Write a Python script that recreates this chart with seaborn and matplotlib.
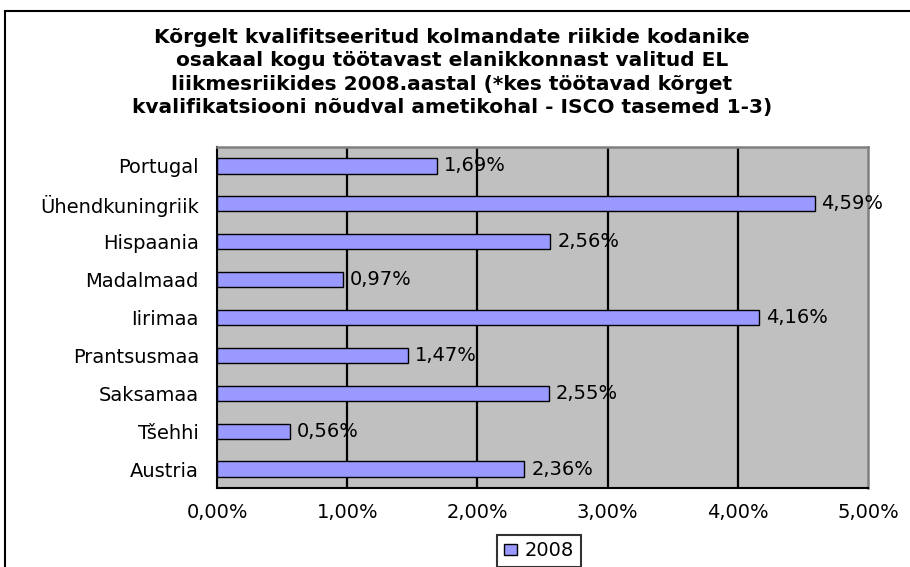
import matplotlib
matplotlib.use("Agg")
from matplotlib import pyplot as plt
import matplotlib.patches as mpatches
import pandas as pd
import seaborn as sns

countries = ["Portugal", "Ühendkuningriik", "Hispaania", "Madalmaad", "Iirimaa",
             "Prantsusmaa", "Saksamaa", "Tšehhi", "Austria"]
share_2008 = [1.69, 4.59, 2.56, 0.97, 4.16, 1.47, 2.55, 0.56, 2.36]
x_ticks = [0, 1, 2, 3, 4, 5]
series_name = "2008"
title = ("Kõrgelt kvalifitseeritud kolmandate riikide kodanike\n"
         "osakaal kogu töötavast elanikkonnast valitud EL\n"
         "liikmesriikides 2008.aastal (*kes töötavad kõrget\n"
         "kvalifikatsiooni nõudval ametikohal - ISCO tasemed 1-3)")

BAR_COLOR = "#9999FF"
PLOT_BG = "#C0C0C0"
FS = 14

sns.set_style("white")
plt.rcParams["font.family"] = ["DejaVu Sans"]
plt.rcParams["text.color"] = "black"
plt.rcParams["xtick.color"] = "black"
plt.rcParams["ytick.color"] = "black"
plt.rcParams["xtick.labelcolor"] = "black"
plt.rcParams["ytick.labelcolor"] = "black"

df = pd.DataFrame({"country": countries, "share": share_2008})

fig = plt.figure(figsize=(9.1, 5.67), dpi=100)
ax = fig.add_axes([217 / 910, 1 - 488 / 567, 651 / 910, 341 / 567])
ax.set_facecolor(PLOT_BG)

sns.barplot(data=df, x="share", y="country", order=countries, orient="h",
            color=BAR_COLOR, edgecolor="black", linewidth=1.0, width=0.4,
            saturation=1, ax=ax, zorder=3)

# data labels with comma decimals
labels = [f"{v:.2f}%".replace(".", ",") for v in share_2008]
ax.bar_label(ax.containers[0], labels=labels, padding=5, fontsize=FS,
             color="black", zorder=4)

ax.set_xlim(0, 5)
ax.set_ylim(len(countries) - 0.5, -0.5)
ax.set_xticks(x_ticks)
ax.set_xticklabels([f"{t:.2f}%".replace(".", ",") for t in x_ticks], fontsize=FS)
ax.tick_params(axis="x", direction="out", length=5, width=1.2, color="black", pad=6)

# category ticks between bars
ax.set_yticks(range(len(countries)))
ax.set_yticklabels(countries, fontsize=FS)
ax.set_yticks([i - 0.5 for i in range(len(countries) + 1)], minor=True)
ax.tick_params(axis="y", which="major", length=0, pad=13)
ax.tick_params(axis="y", which="minor", direction="out", length=5, width=1.2, color="black")

for t in x_ticks[1:-1]:
    ax.axvline(t, color="black", linewidth=1.6, zorder=1)

ax.set_xlabel("")
ax.set_ylabel("")
for side in ["left", "bottom"]:
    ax.spines[side].set_color("black")
    ax.spines[side].set_linewidth(1.5)
for side in ["top", "right"]:
    ax.spines[side].set_color("#808080")
    ax.spines[side].set_linewidth(1.8)
    ax.spines[side].set_visible(True)

fig.text(452 / 910, 1 - 72.5 / 567, title, ha="center", va="center", fontsize=14.5,
         fontweight="bold", linespacing=1.27, color="black")

handle = mpatches.Patch(facecolor=BAR_COLOR, edgecolor="black", label=series_name)
leg = fig.legend(handles=[handle], loc="center", bbox_to_anchor=(539 / 910, 1 - 551 / 567),
                 fontsize=FS, frameon=True, fancybox=False, handlelength=0.65,
                 handleheight=0.5, handletextpad=0.4, borderpad=0.35)
leg.get_frame().set_edgecolor("black")
leg.get_frame().set_linewidth(1.5)
for txt in leg.get_texts():
    txt.set_color("black")

# chart area border
fig.patches.append(mpatches.Rectangle((5 / 910, -0.1), 1.0, 1.1 - 11 / 567,
                                      transform=fig.transFigure, fill=False,
                                      edgecolor="black", linewidth=1.5))

fig.savefig("out.png", dpi=100)
